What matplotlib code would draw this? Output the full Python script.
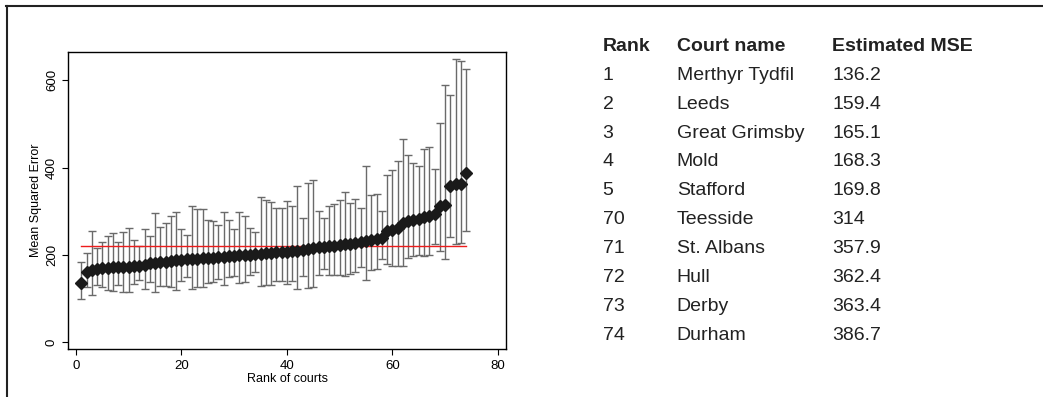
import numpy as np
import matplotlib
matplotlib.use('Agg')
import matplotlib.pyplot as plt
from matplotlib.lines import Line2D

plt.rcParams['font.family'] = ['Liberation Sans', 'DejaVu Sans']

# estimated MSE per court, sorted by rank, with the upper/lower interval ends
mse = [136.2, 159.4, 165.1, 168.3, 169.8, 170.5, 171.2, 171.8, 172.3, 172.8,
       174.0, 175.1, 176.3, 180.5, 182.0, 183.2, 184.3, 185.5, 187.0, 188.5,
       189.5, 190.3, 191.0, 191.8, 192.6, 193.4, 194.2, 195.3, 196.5, 197.6,
       198.6, 199.5, 200.5, 201.5, 202.6, 203.6, 204.5, 205.4, 206.3, 207.3,
       208.3, 209.5, 211.0, 213.0, 215.0, 216.8, 218.3, 219.8, 221.0, 222.5,
       224.0, 225.5, 227.5, 229.5, 231.5, 234.0, 236.0, 238.0, 255.0, 257.5,
       262.0, 272.0, 277.5, 280.0, 282.5, 286.0, 289.0, 294.0, 313.0, 314.0,
       357.9, 362.4, 363.4, 386.7]
upper = [183, 205, 254, 215, 229, 244, 251, 230, 253, 261,
         233, 219, 259, 244, 295, 264, 274, 290, 299, 260,
         246, 312, 306, 305, 280, 277, 268, 297, 279, 260,
         298, 290, 261, 253, 333, 325, 320, 307, 307, 323,
         313, 357, 285, 365, 371, 300, 284, 313, 317, 325,
         344, 319, 329, 308, 404, 337, 339, 300, 384, 394,
         414, 466, 428, 410, 404, 443, 446, 397, 503, 589,
         567, 649, 645, 627]
lower = [99, 125, 107, 131, 127, 119, 116, 130, 115, 114,
         133, 142, 121, 138, 115, 128, 128, 125, 119, 140,
         150, 121, 125, 127, 135, 138, 144, 130, 150, 151,
         135, 138, 154, 160, 129, 130, 130, 141, 141, 133,
         141, 122, 152, 124, 125, 154, 168, 153, 153, 154,
         151, 157, 161, 173, 142, 165, 167, 190, 179, 175,
         174, 174, 193, 197, 200, 197, 200, 224, 209, 190,
         241, 225, 226, 255]
overall_mse = 220

table_ranks = ['1', '2', '3', '4', '5', '70', '71', '72', '73', '74']
table_courts = ['Merthyr Tydfil', 'Leeds', 'Great Grimsby', 'Mold', 'Stafford',
                'Teesside', 'St. Albans', 'Hull', 'Derby', 'Durham']
table_mse = ['136.2', '159.4', '165.1', '168.3', '169.8',
             '314', '357.9', '362.4', '363.4', '386.7']

rank = np.arange(1, len(mse) + 1)
mse = np.array(mse)
yerr = np.vstack([mse - np.array(lower), np.array(upper) - mse])

fig = plt.figure(figsize=(10.43, 3.97), dpi=100)
ax = fig.add_axes([0.0655, 0.1202, 0.4194, 0.7496])

ax.errorbar(rank, mse, yerr=yerr, fmt='none', ecolor='#6a6a6a',
            elinewidth=1.0, capsize=3.2, capthick=1.0, zorder=1)
ax.plot([rank[0], rank[-1]], [overall_mse, overall_mse], color='#ee1c1c',
        lw=1.0, zorder=2)
ax.plot(rank, mse, 'D', color='#1a1a1a', markersize=6, zorder=3)

ax.set_xlim(-1.46, 81.5)
ax.set_ylim(-16.7, 665.7)
ax.set_xticks([0, 20, 40, 60, 80])
ax.set_yticks([0, 200, 400, 600])
ax.tick_params(direction='out', length=4, width=0.8, labelsize=9.5, pad=3.5)
ax.tick_params(axis='y', labelrotation=90)
plt.setp(ax.get_yticklabels(), va='center')
for s in ax.spines.values():
    s.set_linewidth(1.0)
ax.set_xlabel('Rank of courts', fontsize=9, labelpad=1)
ax.set_ylabel('Mean Squared Error', fontsize=9, labelpad=3)

# table of the best and worst ranked courts
H = 397.0
cols = [602.7 / 1043, 676.7 / 1043, 832.3 / 1043]
base = 50.7
step = 28.95
heads = ['Rank', 'Court name', 'Estimated MSE']
for x, h in zip(cols, heads):
    fig.text(x, 1 - base / H, h, fontsize=14, fontweight='bold',
             color='#222222', va='baseline')
for k in range(len(table_ranks)):
    y = 1 - (base + step * (k + 1)) / H
    for x, t in zip(cols, [table_ranks[k], table_courts[k], table_mse[k]]):
        fig.text(x, y, t, fontsize=14, color='#222222', va='baseline')

# outer frame (top and left edges)
fig.add_artist(Line2D([6.7 / 1043, 6.7 / 1043], [0, 1 - 6.3 / H],
                      transform=fig.transFigure, color='#222222', lw=1.5))
fig.add_artist(Line2D([6.0 / 1043, 1], [1 - 6.3 / H, 1 - 6.3 / H],
                      transform=fig.transFigure, color='#222222', lw=1.5))

fig.savefig('out.png', dpi=100)
